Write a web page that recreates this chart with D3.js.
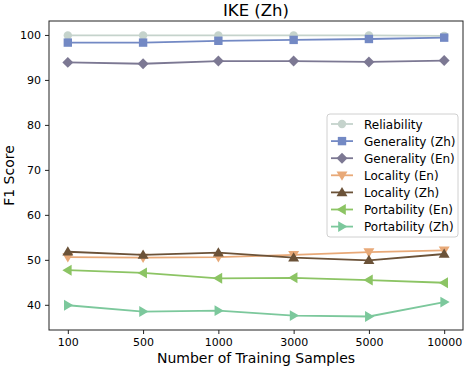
<!DOCTYPE html>
<html>
<head>
<meta charset="utf-8">
<script src="https://cdn.jsdelivr.net/npm/d3@7"></script>
<style>
  body { margin: 0; background: #fff; }
  text { font-family: "DejaVu Sans", sans-serif; fill: #000; }
</style>
</head>
<body>
<svg id="chart" width="466" height="370"></svg>
<script>
const samples = ["100", "500", "1000", "3000", "5000", "10000"];
const yTicks = [40, 50, 60, 70, 80, 90, 100];

const reliability = [99.9, 99.9, 99.9, 99.9, 99.9, 99.8];
const generalityZh = [98.3, 98.3, 98.7, 98.9, 99.1, 99.4];
const generalityEn = [93.9, 93.6, 94.2, 94.2, 94.0, 94.3];
const localityEn = [50.6, 50.5, 50.6, 51.1, 51.7, 52.1];
const localityZh = [51.8, 51.1, 51.6, 50.5, 49.9, 51.3];
const portabilityEn = [47.7, 47.1, 45.9, 46.0, 45.5, 44.9];
const portabilityZh = [39.9, 38.5, 38.7, 37.6, 37.4, 40.6];

const series = [
  { name: "Reliability", values: reliability, color: "#c5d3cc", symbol: "circle" },
  { name: "Generality (Zh)", values: generalityZh, color: "#7389c4", symbol: "square" },
  { name: "Generality (En)", values: generalityEn, color: "#7c7893", symbol: "diamond" },
  { name: "Locality (En)", values: localityEn, color: "#e8a978", symbol: "down" },
  { name: "Locality (Zh)", values: localityZh, color: "#6b5238", symbol: "up" },
  { name: "Portability (En)", values: portabilityEn, color: "#8cc464", symbol: "left" },
  { name: "Portability (Zh)", values: portabilityZh, color: "#7cc89c", symbol: "right" }
];

const svg = d3.select("#chart"),
  margin = { top: 21, right: 3, bottom: 40, left: 49 },
  plotWidth = 466 - margin.left - margin.right,
  plotHeight = 370 - margin.top - margin.bottom;

const g = svg.append("g").attr("transform", `translate(${margin.left},${margin.top})`);

const x = d3.scalePoint().domain(samples).range([0, plotWidth]).padding(0.25);
const y = d3.scaleLinear().domain([34.4, 103.1]).range([plotHeight, 0]);

// marker paths, centred at 0,0
function markerPath(type, s) {
  switch (type) {
    case "circle": return d3.symbol(d3.symbolCircle, Math.PI * s * s)();
    case "square": return `M${-s},${-s}H${s}V${s}H${-s}Z`;
    case "diamond": { const r = s * 1.3; return `M0,${-r}L${r},0L0,${r}L${-r},0Z`; }
    case "up": { const r = s * 1.3; return `M0,${-r}L${r},${r * 0.7}L${-r},${r * 0.7}Z`; }
    case "down": { const r = s * 1.3; return `M0,${r}L${r},${-r * 0.7}L${-r},${-r * 0.7}Z`; }
    case "left": { const r = s * 1.3; return `M${-r},0L${r * 0.7},${-r}L${r * 0.7},${r}Z`; }
    case "right": { const r = s * 1.3; return `M${r},0L${-r * 0.7},${-r}L${-r * 0.7},${r}Z`; }
  }
}

const line = d3.line()
  .x((d, i) => x(samples[i]))
  .y(d => y(d));

series.forEach(s => {
  g.append("path")
    .attr("fill", "none")
    .attr("stroke", s.color)
    .attr("stroke-width", 1.8)
    .attr("d", line(s.values));
  g.selectAll(null)
    .data(s.values)
    .enter().append("path")
    .attr("transform", (d, i) => `translate(${x(samples[i])},${y(d)})`)
    .attr("d", markerPath(s.symbol, 4.2))
    .attr("fill", s.color);
});

// axes
const xAxis = g.append("g")
  .attr("transform", `translate(0,${plotHeight})`)
  .call(d3.axisBottom(x).tickSize(4).tickPadding(4));
const yAxis = g.append("g")
  .call(d3.axisLeft(y).tickValues(yTicks).tickSize(4).tickPadding(4));
[xAxis, yAxis].forEach(a => {
  a.select(".domain").remove();
  a.selectAll("text").style("font-size", "11px").style("font-family", "DejaVu Sans");
  a.selectAll("line").attr("stroke", "#222");
});

g.append("rect")
  .attr("width", plotWidth).attr("height", plotHeight)
  .attr("fill", "none").attr("stroke", "#222").attr("stroke-width", 1);

// titles
svg.append("text")
  .attr("x", margin.left + plotWidth / 2).attr("y", 16)
  .attr("text-anchor", "middle").style("font-size", "16.5px")
  .text("IKE (Zh)");
svg.append("text")
  .attr("x", margin.left + plotWidth / 2).attr("y", 363)
  .attr("text-anchor", "middle").style("font-size", "14px")
  .text("Number of Training Samples");
svg.append("text")
  .attr("transform", `translate(14,${margin.top + plotHeight / 2}) rotate(-90)`)
  .attr("text-anchor", "middle").style("font-size", "14px")
  .text("F1 Score");

// legend
const legend = svg.append("g").attr("transform", "translate(327,114)");
legend.append("rect")
  .attr("width", 131).attr("height", 123).attr("rx", 3)
  .attr("fill", "#fff").attr("fill-opacity", 0.8)
  .attr("stroke", "#d0d0d0");
series.forEach((s, i) => {
  const row = legend.append("g").attr("transform", `translate(0,${10 + i * 17.1})`);
  row.append("line").attr("x1", 4).attr("x2", 26)
    .attr("stroke", s.color).attr("stroke-width", 1.8);
  row.append("path").attr("transform", "translate(15,0)")
    .attr("d", markerPath(s.symbol, 4.2)).attr("fill", s.color);
  row.append("text").attr("x", 37).attr("y", 4.5)
    .style("font-size", "12px").text(s.name);
});
</script>
</body>
</html>
